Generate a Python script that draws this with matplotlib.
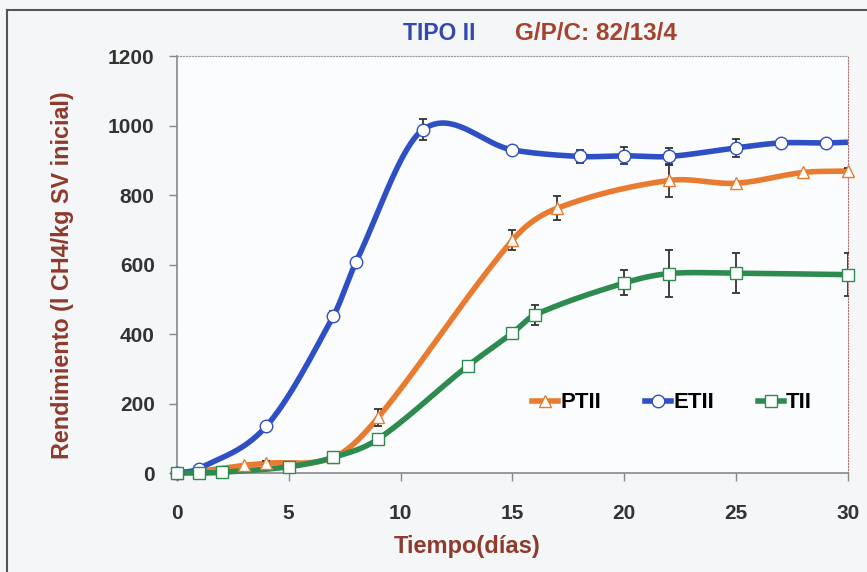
import numpy as np
import matplotlib
matplotlib.use('Agg')
import matplotlib.pyplot as plt
from matplotlib import font_manager
from matplotlib.lines import Line2D

# pick fonts that exist
names = {f.name for f in font_manager.fontManager.ttflist}
narrow = 'Liberation Sans Narrow' if 'Liberation Sans Narrow' in names else 'Liberation Sans'
plt.rcParams['font.family'] = ['Liberation Sans', 'DejaVu Sans']

# Data (days, l CH4/kg SV)
pt_x = [0, 1, 3, 4, 7, 9, 15, 17, 22, 25, 28, 30]
pt_y = [0, 5, 22, 28, 45, 160, 670, 762, 842, 834, 865, 869]
pt_err = [0, 0, 0, 6, 0, 25, 29, 34, 48, 0, 0, 8]

et_x = [0, 1, 4, 7, 8, 11, 15, 18, 20, 22, 25, 27, 29, 30]
et_y = [0, 13, 135, 452, 606, 988, 930, 911, 913, 911, 936, 950, 950, 952]
et_err = [0, 0, 0, 15, 10, 30, 0, 20, 25, 25, 26, 10, 10, 0]

t_x = [0, 1, 2, 5, 7, 9, 13, 15, 16, 20, 22, 25, 30]
t_y = [0, 0, 2, 18, 45, 98, 308, 403, 455, 547, 574, 575, 571]
t_err = [0, 0, 0, 0, 0, 0, 0, 0, 28, 36, 67, 58, 61]

x_ticks = [0, 5, 10, 15, 20, 25, 30]
y_ticks = [0, 200, 400, 600, 800, 1000, 1200]


def smooth(xs, ys, n=40):
    # cubic Hermite through the points, tangents from neighbouring points
    x = np.asarray(xs, float)
    y = np.asarray(ys, float)
    m = np.zeros_like(y)
    m[1:-1] = (y[2:] - y[:-2]) / (x[2:] - x[:-2])
    m[0] = (y[1] - y[0]) / (x[1] - x[0])
    m[-1] = (y[-1] - y[-2]) / (x[-1] - x[-2])
    ox, oy = [x[0]], [y[0]]
    for i in range(len(x) - 1):
        h = x[i + 1] - x[i]
        t = np.linspace(0, 1, n)[1:]
        h00 = 2 * t ** 3 - 3 * t ** 2 + 1
        h10 = t ** 3 - 2 * t ** 2 + t
        h01 = -2 * t ** 3 + 3 * t ** 2
        h11 = t ** 3 - t ** 2
        ox.extend(x[i] + t * h)
        oy.extend(h00 * y[i] + h10 * h * m[i] + h01 * y[i + 1] + h11 * h * m[i + 1])
    return np.array(ox), np.array(oy)


fig = plt.figure(figsize=(8.67, 5.72), dpi=100, facecolor='#f4f6f8')
ax = fig.add_axes([0.204, 0.173, 0.774, 0.729], facecolor='#fbfcfd')

series = [
    (pt_x, pt_y, pt_err, '#e87b2f', '^', 'PTII', None),
    (et_x, et_y, et_err, '#2f4fc4', 'o', 'ETII', list(range(len(et_x) - 1))),
    (t_x, t_y, t_err, '#2e8b4f', 's', 'TII', None),
]

handles = []
for xs, ys, err, col, mk, lab, mev in series:
    sx, sy = smooth(xs, ys)
    ax.plot(sx, sy, color=col, lw=4, solid_capstyle='butt', zorder=3, clip_on=False)
    e = np.array(err, dtype=float)
    sel = e > 0
    ax.errorbar(np.array(xs)[sel], np.array(ys)[sel], yerr=e[sel], fmt='none',
                ecolor='#333333', elinewidth=1.3, capsize=3, capthick=1.3, zorder=4)
    mx = np.array(xs) if mev is None else np.array(xs)[mev]
    my = np.array(ys) if mev is None else np.array(ys)[mev]
    ax.plot(mx, my, ls='none', marker=mk, ms=9, mfc='white', mec=col, mew=1.0,
            zorder=5, clip_on=False)
    handles.append(Line2D([], [], color=col, lw=4, marker=mk, ms=9, mfc='white',
                          mec=col, mew=1.0))

ax.set_xlim(0, 30)
ax.set_ylim(0, 1200)
ax.set_xticks(x_ticks)
ax.set_yticks(y_ticks)
for lbl in ax.get_xticklabels() + ax.get_yticklabels():
    lbl.set_fontweight('bold')
    lbl.set_fontsize(15)
    lbl.set_color('#333333')
ax.tick_params(axis='both', direction='out', length=6, width=1, color='#888888')
ax.tick_params(axis='x', pad=16)
ax.tick_params(axis='y', pad=10)

for s in ['left', 'bottom']:
    ax.spines[s].set_color('#888888')
    ax.spines[s].set_linewidth(1.2)
ax.spines['top'].set_linestyle(':')
ax.spines['top'].set_color('#999999')
ax.spines['top'].set_linewidth(0.8)
ax.spines['right'].set_linestyle(':')
ax.spines['right'].set_color('#b07070')
ax.spines['right'].set_linewidth(0.8)

lab_col = '#8e3a2c'
ax.set_xlabel('Tiempo(días)', fontsize=17, fontweight='bold', color=lab_col, family=narrow)
ax.set_ylabel('Rendimiento (l CH4/kg SV inicial)', fontsize=16.8, fontweight='bold',
              color=lab_col, family=narrow)
ax.xaxis.set_label_coords(0.432, -0.148)
ax.yaxis.set_label_coords(-0.153, 0.475)

fig.text(0.465, 0.942, 'TIPO II', fontsize=16.5, color='#3348b0', family=narrow,
         fontweight='bold', ha='left', va='center')
fig.text(0.594, 0.942, 'G/P/C: 82/13/4', fontsize=17.5, color='#a5432e', family=narrow,
         fontweight='bold', ha='left', va='center')

leg = ax.legend(handles, ['PTII', 'ETII', 'TII'], loc='center', bbox_to_anchor=(0.738, 0.168),
                ncol=3, frameon=False, handlelength=1.15, handletextpad=0.1,
                columnspacing=2.0, prop={'weight': 'bold', 'size': 16, 'family': narrow})

# scan frame lines
fig.add_artist(Line2D([0.008, 0.008], [0, 0.983], color='#555555', lw=1.5))
fig.add_artist(Line2D([0.008, 1.0], [0.983, 0.983], color='#555555', lw=1.5))

fig.savefig('out.png', dpi=100, facecolor=fig.get_facecolor())
